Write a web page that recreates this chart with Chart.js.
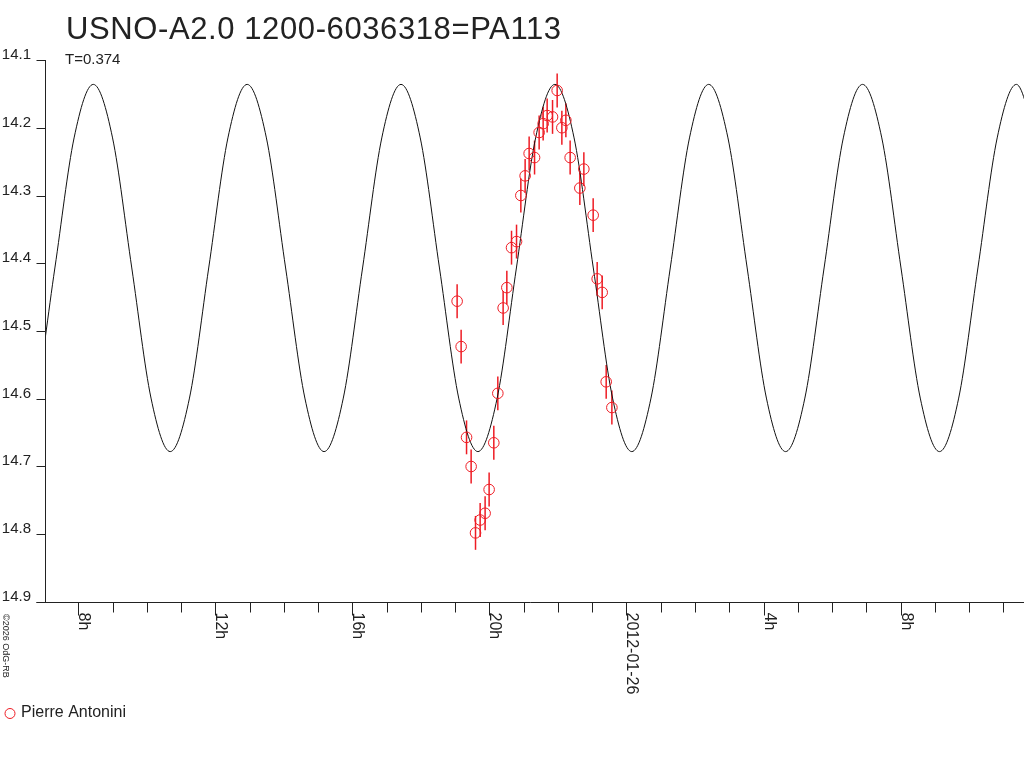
<!DOCTYPE html>
<html>
<head>
<meta charset="utf-8">
<script src="https://cdn.jsdelivr.net/npm/chart.js@4/dist/chart.umd.min.js"></script>
<style>
  html, body { margin: 0; padding: 0; background: #ffffff; }
  canvas { display: block; }
</style>
</head>
<body>
<canvas id="c" width="1024" height="768"></canvas>
<script>
// ---- Data (hours counted from 2012-01-25 00:00 UT) ----
const chartTitle = "USNO-A2.0 1200-6036318=PA113";
const periodLabel = "T=0.374";
const observer = "Pierre Antonini";
const copyrightText = "\u00A92026 OdG-RB";

const obsTime = [19.057, 19.174, 19.332, 19.466, 19.594, 19.729, 19.874, 19.991, 20.128, 20.245,
                 20.400, 20.508, 20.645, 20.791, 20.917, 21.042, 21.159, 21.317, 21.451, 21.568,
                 21.685, 21.842, 21.977, 22.114, 22.231, 22.356, 22.639, 22.756, 23.028, 23.145,
                 23.291, 23.408, 23.574];
const obsMag  = [14.456, 14.523, 14.657, 14.700, 14.798, 14.779, 14.769, 14.734, 14.665, 14.592,
                 14.466, 14.436, 14.377, 14.368, 14.300, 14.271, 14.238, 14.244, 14.207, 14.194,
                 14.182, 14.184, 14.145, 14.200, 14.189, 14.244, 14.289, 14.261, 14.329, 14.423,
                 14.443, 14.575, 14.613];
const obsErr  = [0.025, 0.025, 0.025, 0.025, 0.025, 0.025, 0.025, 0.025, 0.025, 0.025,
                 0.025, 0.025, 0.025, 0.025, 0.025, 0.025, 0.025, 0.025, 0.025, 0.025,
                 0.025, 0.025, 0.025, 0.025, 0.025, 0.025, 0.025, 0.025, 0.025, 0.025,
                 0.025, 0.025, 0.025];

// model light curve
const modelTime = [6.193, 6.754, 7.316, 7.877, 8.438, 9.000, 9.561, 10.122, 10.683, 11.245,
                   11.806, 12.367, 12.929, 13.490, 14.051, 14.613, 15.174, 15.735, 16.297, 16.858,
                   17.419, 17.981, 18.542, 19.103, 19.664, 20.226, 20.787, 21.348, 21.910, 22.471,
                   23.032, 23.594, 24.155, 24.716, 25.278, 25.839, 26.400, 26.962, 27.523, 28.084,
                   28.645, 29.207, 29.768, 30.329, 30.891, 31.452, 32.013, 32.575, 33.136, 33.697,
                   34.258, 34.820, 35.381, 35.942];
const modelMag  = [14.678, 14.599, 14.407, 14.215, 14.136, 14.215, 14.407, 14.599, 14.678, 14.599,
                   14.407, 14.215, 14.136, 14.215, 14.407, 14.599, 14.678, 14.599, 14.407, 14.215,
                   14.136, 14.215, 14.407, 14.599, 14.678, 14.599, 14.407, 14.215, 14.136, 14.215,
                   14.407, 14.599, 14.678, 14.599, 14.407, 14.215, 14.136, 14.215, 14.407, 14.599,
                   14.678, 14.599, 14.407, 14.215, 14.136, 14.215, 14.407, 14.599, 14.678, 14.599,
                   14.407, 14.215, 14.136, 14.215];

const yTicks = [14.1, 14.2, 14.3, 14.4, 14.5, 14.6, 14.7, 14.8, 14.9];
const yTickLabels = ["14.1", "14.2", "14.3", "14.4", "14.5", "14.6", "14.7", "14.8", "14.9"];
const xMinorTicks = [8, 9, 10, 11, 12, 13, 14, 15, 16, 17, 18, 19, 20, 21, 22, 23, 24, 25, 26, 27,
                     28, 29, 30, 31, 32, 33, 34, 35];
const xMajorTicks = [8, 12, 16, 20, 24, 28, 32];
const xMajorLabels = ["8h", "12h", "16h", "20h", "2012-01-26", "4h", "8h"];
const xRange = [7.028, 35.603];
const yRange = [14.1, 14.9];

// ---- Styles ----
const RED = "rgb(238,28,36)";
const INK = "#222222";
const FONT = "'Liberation Sans', Arial, sans-serif";

const decorPlugin = {
  id: "decor",
  beforeDatasetsDraw(chart) {
    const ctx = chart.ctx, xs = chart.scales.x, ys = chart.scales.y;
    ctx.save();
    ctx.beginPath();
    ctx.rect(chart.chartArea.left, chart.chartArea.top, chart.chartArea.right - chart.chartArea.left, chart.chartArea.bottom - chart.chartArea.top + 1);
    ctx.clip();
    ctx.strokeStyle = RED;
    ctx.lineWidth = 1.5;
    for (let i = 0; i < obsTime.length; i++) {
      const px = xs.getPixelForValue(obsTime[i]);
      const y1 = ys.getPixelForValue(obsMag[i] - obsErr[i]);
      const y2 = ys.getPixelForValue(obsMag[i] + obsErr[i]);
      ctx.beginPath();
      ctx.moveTo(px, y1);
      ctx.lineTo(px, y2);
      ctx.stroke();
    }
    ctx.restore();
  },
  afterDraw(chart) {
    const ctx = chart.ctx, xs = chart.scales.x, ys = chart.scales.y;
    const a = chart.chartArea;
    ctx.save();
    ctx.strokeStyle = INK;
    ctx.lineWidth = 1;
    const ax = Math.round(a.left) + 0.5;
    const ay = Math.round(a.bottom) + 0.5;
    // y axis
    ctx.beginPath();
    ctx.moveTo(ax, ys.getPixelForValue(yRange[0]));
    ctx.lineTo(ax, ay);
    ctx.stroke();
    // x axis (extends left like a tick)
    ctx.beginPath();
    ctx.moveTo(ax - 9, ay);
    ctx.lineTo(a.right, ay);
    ctx.stroke();
    // y ticks + labels
    ctx.fillStyle = INK;
    ctx.font = "15px " + FONT;
    ctx.textAlign = "right";
    ctx.textBaseline = "alphabetic";
    yTicks.forEach((v, i) => {
      const py = Math.round(ys.getPixelForValue(v)) + 0.5;
      ctx.beginPath();
      ctx.moveTo(ax - 9, py);
      ctx.lineTo(ax, py);
      ctx.stroke();
      ctx.fillText(yTickLabels[i], 31, py - 1.5);
    });
    // x ticks
    xMinorTicks.forEach(v => {
      const px = Math.round(xs.getPixelForValue(v)) + 0.5;
      const major = xMajorTicks.indexOf(v) >= 0;
      ctx.beginPath();
      ctx.moveTo(px, ay);
      ctx.lineTo(px, ay + (major ? 13 : 10));
      ctx.stroke();
    });
    // x labels rotated clockwise
    ctx.font = "16px " + FONT;
    ctx.textAlign = "left";
    ctx.textBaseline = "alphabetic";
    xMajorTicks.forEach((v, i) => {
      const px = xs.getPixelForValue(v);
      ctx.save();
      ctx.translate(px + 1, ay + 10);
      ctx.rotate(Math.PI / 2);
      ctx.fillText(xMajorLabels[i], 0, 0);
      ctx.restore();
    });
    // title
    ctx.font = "31px " + FONT;
    ctx.letterSpacing = "0.6px";
    ctx.fillText(chartTitle, 66, 39);
    ctx.letterSpacing = "0px";
    // period
    ctx.font = "15px " + FONT;
    ctx.fillText(periodLabel, 65, 64);
    // copyright rotated
    ctx.save();
    ctx.font = "9px " + FONT;
    ctx.translate(1, 614);
    ctx.rotate(Math.PI / 2);
    ctx.textBaseline = "bottom";
    ctx.fillText(copyrightText, 0, 0);
    ctx.restore();
    // legend
    ctx.strokeStyle = RED;
    ctx.lineWidth = 1;
    ctx.beginPath();
    ctx.arc(10, 713.5, 5, 0, Math.PI * 2);
    ctx.stroke();
    ctx.fillStyle = INK;
    ctx.font = "16px " + FONT;
    ctx.textBaseline = "middle";
    ctx.fillText(observer, 21, 713);
    ctx.restore();
  }
};

new Chart(document.getElementById("c"), {
  type: "scatter",
  data: {
    datasets: [
      {
        label: "model",
        data: modelTime.map((t, i) => ({ x: t, y: modelMag[i] })),
        showLine: true,
        pointRadius: 0,
        borderColor: "#111111",
        borderWidth: 1,
        cubicInterpolationMode: "monotone",
        order: 2
      },
      {
        label: observer,
        data: obsTime.map((t, i) => ({ x: t, y: obsMag[i] })),
        showLine: false,
        pointStyle: "circle",
        pointRadius: 5.3,
        borderColor: RED,
        backgroundColor: "rgba(0,0,0,0)",
        borderWidth: 1,
        order: 1
      }
    ]
  },
  options: {
    responsive: false,
    animation: false,
    devicePixelRatio: 1,
    events: [],
    layout: { autoPadding: false, padding: { left: 45, top: 60, right: 0, bottom: 166 } },
    scales: {
      x: { type: "linear", min: xRange[0], max: xRange[1], display: false },
      y: { type: "linear", min: yRange[0], max: yRange[1], reverse: true, display: false }
    },
    plugins: { legend: { display: false }, tooltip: { enabled: false }, title: { display: false } }
  },
  plugins: [decorPlugin]
});
</script>
</body>
</html>
